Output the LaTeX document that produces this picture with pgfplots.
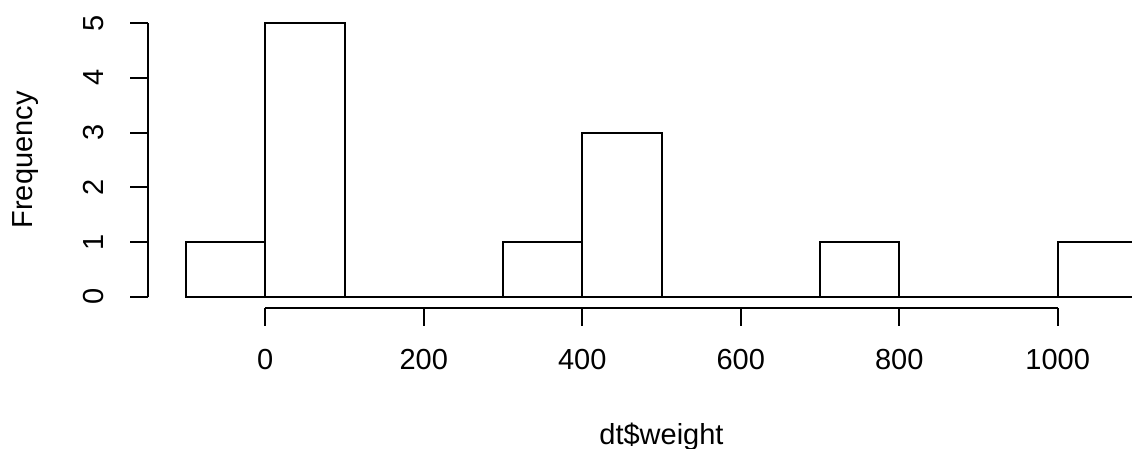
\documentclass[border=0pt]{standalone}
\usepackage{pgfplots}
\pgfplotsset{compat=1.18}
\usepackage{fontspec}
\setmainfont{Liberation Sans}
\begin{document}
\fontsize{29bp}{34bp}\selectfont
\begin{tikzpicture}
\useasboundingbox (0,0) rectangle (1132bp,449bp);
\begin{axis}[
  at={(106.82bp,97.6bp)}, anchor=south west,
  scale only axis, width=1109.36bp, height=382.9bp,
  xmin=-200, xmax=1200, ymin=-1, ymax=6,
  enlargelimits=false, hide axis, clip=false,
]
\addplot[ybar interval, fill=white, draw=black, line width=2bp] coordinates {
  (-100,1) (0,5) (100,0) (200,0) (300,1) (400,3) (500,0) (600,0)
  (700,1) (800,0) (900,0) (1000,1) (1100,0)
};
% y axis
\draw[line width=2bp] (axis cs:-147.65,0) -- (axis cs:-147.65,5);
\pgfplotsinvokeforeach{0,1,2,3,4,5}{
  \draw[line width=2bp] (axis cs:-147.65,#1) -- (axis cs:-170.75,#1);
  \node[rotate=90, anchor=base, inner sep=0pt] at (axis cs:-203.6,#1) {#1};
}
% x axis
\draw[line width=2bp] (axis cs:0,-0.2121) -- (axis cs:1000,-0.2121);
\pgfplotsinvokeforeach{0,200,400,600,800,1000}{
  \draw[line width=2bp] (axis cs:#1,-0.2121) -- (axis cs:#1,-0.5356);
  \node[anchor=base, inner sep=0pt] at (axis cs:#1,-1.329) {#1};
}
\node[anchor=base, inner sep=0pt] at (axis cs:500,-2.698) {dt\$weight};
\node[rotate=90, anchor=base, inner sep=0pt] at (axis cs:-293.7,2.5) {Frequency};
\end{axis}
\end{tikzpicture}
\end{document}
